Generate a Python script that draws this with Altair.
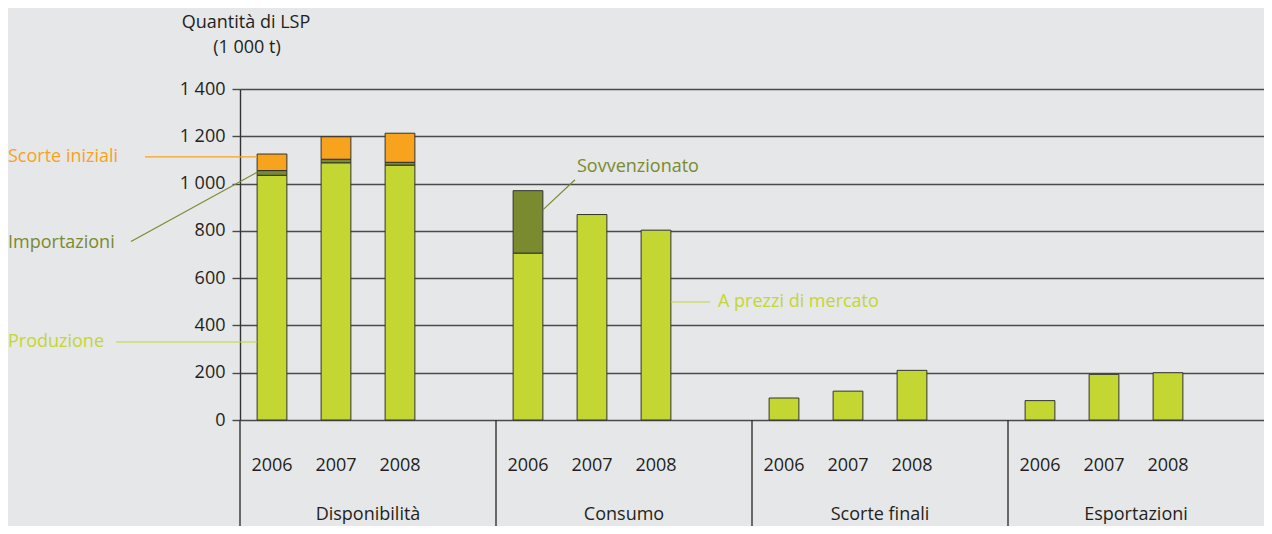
import altair as alt
import pandas as pd

# ---------------- data ----------------
groups = ["Disponibilità", "Consumo", "Scorte finali", "Esportazioni"]
years = ["2006", "2007", "2008"]
produzione = [1035, 1088, 1078]
importazioni = [20, 15, 12]
scorte_iniziali = [70, 95, 123]
consumo_mercato = [706, 869, 803]
consumo_sovvenzionato = [264, 0, 0]
scorte_finali = [93, 122, 210]
esportazioni = [82, 193, 200]
y_ticks = [0, 200, 400, 600, 800, 1000, 1200, 1400]

LIGHT = "#c3d631"
OLIVE = "#7a8a2e"
ORANGE = "#f7a31e"
TXT = "#231f20"
GRID = "#4a4a4a"
FONT = "Open Sans"

W, H = 1024, 331

slots = []
for g in groups:
    for yr in years:
        slots.append(f"{g}|{yr}")
    slots.append(f"{g}|")

series = [
    ("Disponibilità", "Produzione", produzione, 0),
    ("Disponibilità", "Importazioni", importazioni, 1),
    ("Disponibilità", "Scorte iniziali", scorte_iniziali, 2),
    ("Consumo", "A prezzi di mercato", consumo_mercato, 0),
    ("Consumo", "Sovvenzionato", consumo_sovvenzionato, 1),
    ("Scorte finali", "Scorte finali", scorte_finali, 0),
    ("Esportazioni", "Esportazioni", esportazioni, 0),
]
rows = []
for g, comp, vals, order in series:
    for yr, v in zip(years, vals):
        if v > 0:
            rows.append({"slot": f"{g}|{yr}", "component": comp, "value": v, "order": order})
bars_df = pd.DataFrame(rows)

comp_domain = ["Produzione", "Importazioni", "Scorte iniziali", "A prezzi di mercato",
               "Sovvenzionato", "Scorte finali", "Esportazioni"]
comp_range = [LIGHT, OLIVE, ORANGE, LIGHT, OLIVE, LIGHT, LIGHT]

slot_scale = alt.Scale(type="band", domain=slots, paddingInner=0.535, paddingOuter=0.2675)
y_scale = alt.Scale(domain=[0, 1400], nice=False)

x_axis = alt.Axis(labelExpr="split(datum.value, '|')[1]", ticks=False, tickSize=0,
                  domain=False, grid=False, labelAngle=0, labelFontSize=18,
                  labelFont=FONT, labelColor=TXT, labelBaseline="middle",
                  labelPadding=45, labelOverlap=False, title=None)
y_axis = alt.Axis(values=y_ticks,
                  labelExpr="replace(format(datum.value, ','), ',', ' ')",
                  grid=True, gridColor=GRID, gridWidth=1.4,
                  domainColor="#333333", domainWidth=1.4,
                  tickColor=GRID, tickSize=8, tickWidth=1.4,
                  labelFontSize=18, labelFont=FONT, labelColor=TXT,
                  labelPadding=7, title=None)

bars = alt.Chart(bars_df).mark_bar(stroke="#333333", strokeWidth=1).encode(
    x=alt.X("slot:N", scale=slot_scale, sort=slots, title=None, axis=x_axis),
    y=alt.Y("value:Q", stack="zero", scale=y_scale, title=None, axis=y_axis),
    color=alt.Color("component:N", scale=alt.Scale(domain=comp_domain, range=comp_range), legend=None),
    order=alt.Order("order:Q"),
)

# leader lines: (slot, band edge, y at bar, y at label end, label-end x px, colour)
leaders = [
    ("Disponibilità|2006", 0, 1113, 1113, -95, ORANGE),
    ("Disponibilità|2006", 0, 1048, 755, -109, OLIVE),
    ("Disponibilità|2006", 0, 330, 330, -124, LIGHT),
    ("Consumo|2006", 1, 889, 1016, 335, OLIVE),
    ("Consumo|2008", 1, 499, 499, 470, LIGHT),
]
leader_layers = []
for slot, edge, y1, y2, x2, col in leaders:
    df = pd.DataFrame([{"slot": slot, "value": y1, "v2": y2}])
    leader_layers.append(
        alt.Chart(df).mark_rule(color=col, strokeWidth=1.2).encode(
            x=alt.X("slot:N", scale=slot_scale, sort=slots, bandPosition=edge, title=None),
            x2=alt.value(x2),
            y=alt.Y("value:Q", scale=y_scale, title=None),
            y2=alt.Y2("v2:Q"),
        )
    )

# annotation labels: (text, x px, y value, colour)
notes = [
    ("Scorte iniziali", -232, 1113, ORANGE),
    ("Importazioni", -232, 750, OLIVE),
    ("Produzione", -232, 330, LIGHT),
    ("Sovvenzionato", 337, 1069, OLIVE),
    ("A prezzi di mercato", 478, 499, LIGHT),
]
note_layers = []
for txt, px, yv, col in notes:
    df = pd.DataFrame([{"value": yv, "t": txt}])
    note_layers.append(
        alt.Chart(df).mark_text(align="left", baseline="middle", fontSize=18, font=FONT, color=col).encode(
            x=alt.value(px),
            y=alt.Y("value:Q", scale=y_scale, title=None),
            text="t:N",
        )
    )

slot_layer = alt.layer(bars, *leader_layers, *note_layers)

# group labels and separators
groups_df = pd.DataFrame({"group": groups})
group_scale = alt.Scale(type="band", domain=groups, paddingInner=0, paddingOuter=0)
sep = alt.Chart(groups_df).mark_rule(color="#333333", strokeWidth=1.4).encode(
    x=alt.X("group:N", scale=group_scale, sort=groups, bandPosition=0, axis=None),
    y=alt.value(H),
    y2=alt.value(H + 115),
)
glabels = alt.Chart(groups_df).mark_text(fontSize=18, font=FONT, color=TXT, baseline="middle", align="center").encode(
    x=alt.X("group:N", scale=group_scale, sort=groups, bandPosition=0.5, axis=None),
    y=alt.value(H + 95),
    text="group:N",
)
group_layer = alt.layer(sep, glabels)

one = pd.DataFrame([{"a": 1}])
title1 = alt.Chart(one).mark_text(text="Quantità di LSP", fontSize=18, font=FONT, color=TXT,
                                  align="center", baseline="middle").encode(
    x=alt.value(6), y=alt.value(-66))
title2 = alt.Chart(one).mark_text(text="(1 000 t)", fontSize=18, font=FONT, color=TXT,
                                  align="center", baseline="middle").encode(
    x=alt.value(7), y=alt.value(-41))

chart = alt.layer(slot_layer, group_layer, title1, title2).resolve_scale(
    x="independent"
).properties(
    width=W,
    height=H,
    autosize=alt.AutoSizeParams(type="none"),
    padding={"left": 232, "top": 81, "right": 0, "bottom": 106},
    background="#e6e7e8",
).configure_view(stroke=None).configure(font=FONT)

chart.save("out.html", embed_options={"renderer": "svg", "actions": False})
